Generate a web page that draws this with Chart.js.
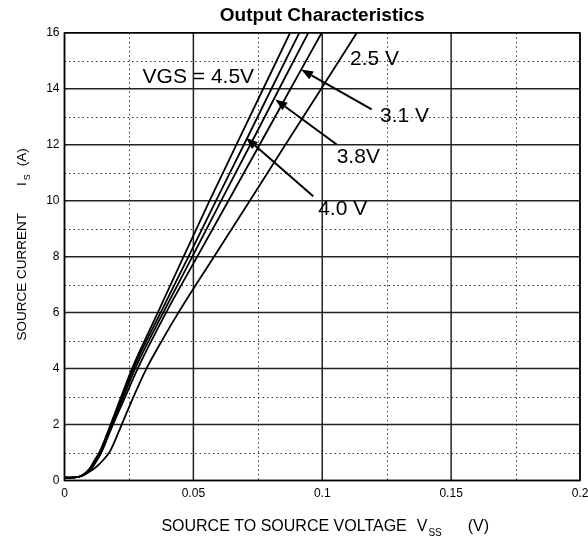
<!DOCTYPE html>
<html lang="en">
<head>
<meta charset="UTF-8">
<title>Output Characteristics</title>
<script src="https://cdn.jsdelivr.net/npm/chart.js"></script>
<style>
  html, body { margin: 0; padding: 0; background: #fff; }
  #wrap { position: relative; width: 588px; height: 543px; }
</style>
</head>
<body>
<div id="wrap"><canvas id="chart"></canvas></div>
<script>
  // axis ticks
  const xTicks = [0, 0.05, 0.1, 0.15, 0.2];
  const xTickLabels = ['0', '0.05', '0.1', '0.15', '0.2'];
  const xMinor = [0.025, 0.075, 0.125, 0.175];
  const yTicks = [0, 2, 4, 6, 8, 10, 12, 14, 16];
  const yMinor = [1, 3, 5, 7, 9, 11, 13, 15];

  // curves, [V_ss, I_s]
  const vgs45 = [[0, 0.1], [0.004, 0.11], [0.007, 0.2], [0.0095, 0.4], [0.0115, 0.7], [0.0135, 1.0], [0.0158, 1.5], [0.0179, 2.0], [0.022, 3.0], [0.0262, 4.0], [0.0362, 6.0], [0.0462, 8.0], [0.0563, 10.0], [0.0667, 12.0], [0.0771, 14.0], [0.0875, 16.0]];
  const vgs40 = [[0, 0.1], [0.004, 0.11], [0.007, 0.19], [0.0095, 0.37], [0.0116, 0.66], [0.0138, 1.0], [0.016, 1.5], [0.0181, 2.0], [0.0224, 3.0], [0.0267, 4.0], [0.0373, 6.0], [0.0481, 8.0], [0.0588, 10.0], [0.0696, 12.0], [0.0803, 14.0], [0.0911, 16.0]];
  const vgs38 = [[0, 0.1], [0.004, 0.11], [0.007, 0.18], [0.0096, 0.36], [0.0117, 0.64], [0.014, 1.0], [0.0162, 1.5], [0.0184, 2.0], [0.0229, 3.0], [0.0274, 4.0], [0.0383, 6.0], [0.0496, 8.0], [0.0608, 10.0], [0.0721, 12.0], [0.0833, 14.0], [0.0946, 16.0]];
  const vgs31 = [[0, 0.1], [0.004, 0.11], [0.007, 0.18], [0.0097, 0.35], [0.0119, 0.62], [0.0143, 1.0], [0.0166, 1.5], [0.0188, 2.0], [0.0236, 3.0], [0.0284, 4.0], [0.0394, 6.0], [0.0515, 8.0], [0.0636, 10.0], [0.0757, 12.0], [0.0877, 14.0], [0.0998, 16.0]];
  const vgs25 = [[0, 0.1], [0.004, 0.11], [0.007, 0.17], [0.0095, 0.3], [0.0125, 0.5], [0.0152, 0.75], [0.0177, 1.05], [0.0222, 2.0], [0.0268, 3.0], [0.0318, 4.0], [0.0378, 5.0], [0.0442, 6.0], [0.058, 8.0], [0.0719, 10.0], [0.0857, 12.0], [0.0996, 14.0], [0.1134, 16.0]];
  const curves = [vgs45, vgs40, vgs38, vgs31, vgs25];
  const curveNames = ['4.5 V', '4.0 V', '3.8 V', '3.1 V', '2.5 V'];

  // annotation texts (left edge, middle) and arrows, in data units
  const noteText = ['VGS = 4.5V', '2.5 V', '3.1 V', '3.8V', '4.0 V'];
  const noteX = [0.0303, 0.1108, 0.1224, 0.1056, 0.0984];
  const noteY = [14.41, 15.05, 13.02, 11.54, 9.68];
  const arrowFrom = [[0.1192, 13.26], [0.1056, 12.01], [0.0965, 10.16]];
  const arrowTo = [[0.0918, 14.69], [0.0818, 13.62], [0.0704, 12.25]];

  const FONT = "'Liberation Sans', Arial, sans-serif";
  Chart.defaults.font.family = FONT;
  Chart.defaults.color = '#000';

  function pieces(ctx, list) {
    // list of [text, size, shift, gapAfter]
    let w = 0;
    list.forEach(p => { ctx.font = p[1] + 'px ' + FONT; w += ctx.measureText(p[0]).width + p[3]; });
    return w;
  }
  function drawPieces(ctx, list, x0, y0) {
    let x = x0;
    list.forEach(p => {
      ctx.font = p[1] + 'px ' + FONT;
      ctx.fillText(p[0], x, y0 + p[2]);
      x += ctx.measureText(p[0]).width + p[3];
    });
  }

  const gridPlugin = {
    id: 'gridPlugin',
    beforeDatasetsDraw(chart) {
      const { ctx, chartArea: a, scales: { x, y } } = chart;
      ctx.save();
      ctx.strokeStyle = '#333';
      ctx.lineWidth = 1;
      ctx.setLineDash([1.5, 3]);
      xMinor.forEach(v => {
        const px = Math.round(x.getPixelForValue(v)) + 0.5;
        ctx.beginPath(); ctx.moveTo(px, a.top); ctx.lineTo(px, a.bottom); ctx.stroke();
      });
      yMinor.forEach(v => {
        const py = Math.round(y.getPixelForValue(v)) + 0.5;
        ctx.beginPath(); ctx.moveTo(a.left, py); ctx.lineTo(a.right, py); ctx.stroke();
      });
      ctx.setLineDash([]);
      ctx.strokeStyle = '#222';
      ctx.lineWidth = 1.5;
      xTicks.forEach(v => {
        const px = x.getPixelForValue(v);
        ctx.beginPath(); ctx.moveTo(px, a.top); ctx.lineTo(px, a.bottom); ctx.stroke();
      });
      yTicks.forEach(v => {
        const py = y.getPixelForValue(v);
        ctx.beginPath(); ctx.moveTo(a.left, py); ctx.lineTo(a.right, py); ctx.stroke();
      });
      ctx.restore();
    },
    afterDraw(chart) {
      const { ctx, chartArea: a, scales: { x, y } } = chart;
      ctx.save();
      ctx.strokeStyle = '#000';
      ctx.lineWidth = 1.5;
      ctx.strokeRect(a.left, a.top, a.right - a.left, a.bottom - a.top);

      // arrows
      ctx.fillStyle = '#000';
      ctx.lineWidth = 2;
      arrowFrom.forEach((f, i) => {
        const x1 = x.getPixelForValue(f[0]), y1 = y.getPixelForValue(f[1]);
        const x2 = x.getPixelForValue(arrowTo[i][0]), y2 = y.getPixelForValue(arrowTo[i][1]);
        const ang = Math.atan2(y2 - y1, x2 - x1);
        const len = 12, half = 4.5;
        const bx = x2 - len * Math.cos(ang), by = y2 - len * Math.sin(ang);
        ctx.beginPath(); ctx.moveTo(x1, y1); ctx.lineTo(bx, by); ctx.stroke();
        ctx.beginPath();
        ctx.moveTo(x2, y2);
        ctx.lineTo(bx + half * Math.sin(ang), by - half * Math.cos(ang));
        ctx.lineTo(bx - half * Math.sin(ang), by + half * Math.cos(ang));
        ctx.closePath(); ctx.fill();
      });

      // labels
      ctx.font = '21px ' + FONT;
      ctx.textBaseline = 'middle';
      ctx.textAlign = 'left';
      noteText.forEach((t, i) => {
        ctx.fillText(t, x.getPixelForValue(noteX[i]), y.getPixelForValue(noteY[i]));
      });

      // x axis title with subscript
      ctx.textBaseline = 'alphabetic';
      const xt = [['SOURCE TO SOURCE VOLTAGE', 16, 0, 10], ['V', 16, 0, 1], ['SS', 10, 5, 26], ['(V)', 16, 0, 0]];
      const xw = pieces(ctx, xt);
      drawPieces(ctx, xt, (a.left + a.right) / 2 + 3 - xw / 2, 531);

      // y axis title, rotated
      const yt = [['SOURCE CURRENT', 13.5, 0, 27], ['I', 13.5, 0, 2], ['S', 9, 4, 8], ['(A)', 13.5, 0, 0]];
      ctx.translate(26, a.bottom - 140);
      ctx.rotate(-Math.PI / 2);
      drawPieces(ctx, yt, 0, 0);
      ctx.restore();
    }
  };

  new Chart(document.getElementById('chart'), {
    type: 'scatter',
    data: {
      datasets: curves.map((c, i) => ({
        label: curveNames[i],
        data: c.map(p => ({ x: p[0], y: p[1] })),
        showLine: true,
        borderColor: '#000',
        borderWidth: 1.8,
        pointRadius: 0,
        cubicInterpolationMode: 'monotone'
      }))
    },
    options: {
      responsive: true,
      maintainAspectRatio: false,
      animation: false,
      devicePixelRatio: 1,
      layout: { padding: { left: 0, right: 0, top: 0, bottom: 0 } },
      plugins: {
        legend: { display: false },
        tooltip: { enabled: false },
        title: {
          display: true,
          text: 'Output Characteristics',
          fullSize: false,
          color: '#000',
          font: { size: 19, weight: 'bold' },
          padding: { top: 4, bottom: 6 }
        }
      },
      scales: {
        x: {
          type: 'linear',
          min: 0,
          max: 0.2,
          afterBuildTicks: s => { s.ticks = xTicks.map(v => ({ value: v })); },
          afterFit: s => { s.height = 62.5; s.paddingLeft = 0; s.paddingRight = 8; },
          ticks: {
            callback: (v, i) => xTickLabels[i],
            font: { size: 12 },
            padding: 6,
            maxRotation: 0,
            autoSkip: false
          },
          grid: { display: false, drawTicks: false },
          border: { display: false }
        },
        y: {
          min: 0,
          max: 16,
          afterBuildTicks: s => { s.ticks = yTicks.map(v => ({ value: v })); },
          afterFit: s => { s.width = 64.5; },
          ticks: { font: { size: 12 }, padding: 5 },
          grid: { display: false, drawTicks: false },
          border: { display: false }
        }
      }
    },
    plugins: [gridPlugin]
  });
</script>
</body>
</html>
